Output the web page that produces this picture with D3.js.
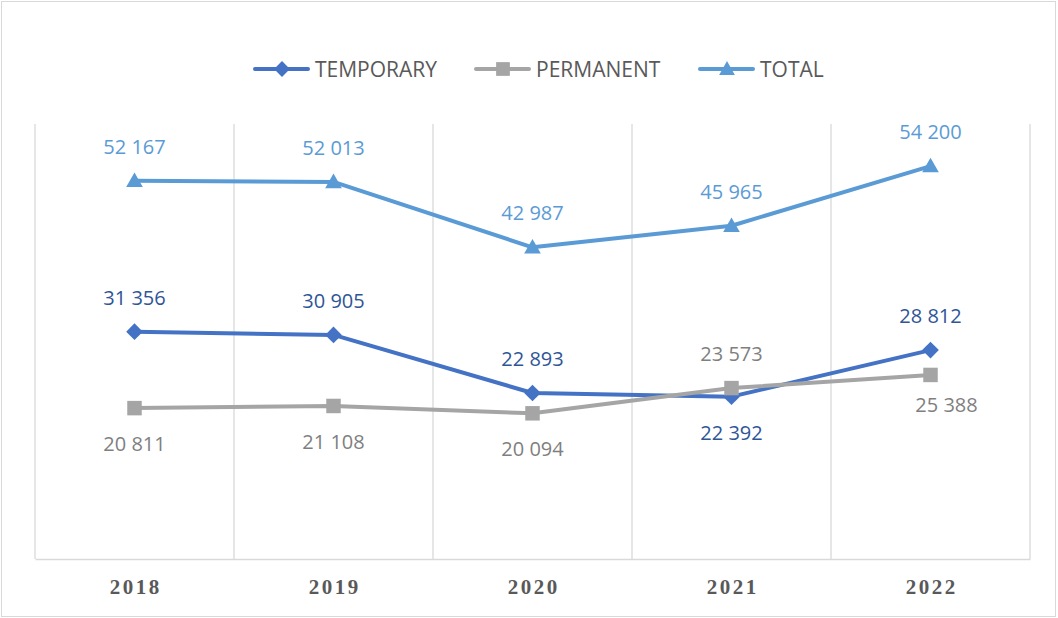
<!DOCTYPE html>
<html>
<head>
<meta charset="utf-8">
<script src="https://cdn.jsdelivr.net/npm/d3@7"></script>
<style>
  body { margin: 0; background: #fff; }
  svg { display: block; }
</style>
</head>
<body>
<div id="chart"></div>
<script>
// data
const years = ["2018", "2019", "2020", "2021", "2022"];
const temporary = [31356, 30905, 22893, 22392, 28812];
const permanent = [20811, 21108, 20094, 23573, 25388];
const total = [52167, 52013, 42987, 45965, 54200];
const seriesNames = ["TEMPORARY", "PERMANENT", "TOTAL"];
// label placement per point (above / below)
const tempLabelPos = ["above", "above", "above", "below", "above"];
const permLabelPos = ["below", "below", "below", "above", "below"];
const totalLabelPos = ["above", "above", "above", "above", "above"];

const width = 1058, height = 618;
const margin = {top: 124, right: 28, bottom: 59, left: 35};
const labelFont = "'Open Sans', 'Noto Sans', sans-serif";

const svg = d3.select("#chart").append("svg")
    .attr("width", width)
    .attr("height", height);

// outer frame
svg.append("rect")
    .attr("x", 1.5).attr("y", 1.5)
    .attr("width", width - 4).attr("height", height - 3)
    .attr("fill", "#fff")
    .attr("stroke", "#D9D9D9");

let x = d3.scaleBand()
    .domain(years)
    .range([margin.left, width - margin.right])
    .padding(0);
let y = d3.scaleLinear()
    .domain([0, 60000])
    .range([height - margin.bottom, margin.top]);

// vertical gridlines at band edges
let edges = years.map(d => x(d)).concat([x.range()[1]]);
svg.append("g").selectAll("line").data(edges)
    .enter().append("line")
    .attr("x1", d => d).attr("x2", d => d)
    .attr("y1", y(60000)).attr("y2", y(0))
    .attr("stroke", "#D9D9D9").attr("stroke-width", 1.3);

// x axis
let xAxis = svg.append("g")
    .attr("transform", "translate(0," + y(0) + ")")
    .call(d3.axisBottom(x).tickSize(0).tickPadding(20));
xAxis.select(".domain").attr("stroke", "#D9D9D9").attr("stroke-width", 1.5);
xAxis.selectAll("text")
    .attr("font-family", "'Liberation Serif', 'DejaVu Serif', serif")
    .attr("font-weight", "bold")
    .attr("font-size", 21)
    .attr("letter-spacing", 2.5)
    .attr("dx", 1.2)
    .attr("fill", "#595959");

let diamond = {
    draw(ctx, size) {
        let r = Math.sqrt(size) * 0.68;
        ctx.moveTo(0, -r); ctx.lineTo(r, 0); ctx.lineTo(0, r); ctx.lineTo(-r, 0); ctx.closePath();
    }
};
let triangle = {
    draw(ctx, size) {
        let r = Math.sqrt(size) * 0.68;
        ctx.moveTo(0, -r); ctx.lineTo(r, r * 0.75); ctx.lineTo(-r, r * 0.75); ctx.closePath();
    }
};

let series = [
    {name: seriesNames[0], values: temporary, color: "#4472C4", label: "#2F5597", pos: tempLabelPos, symbol: diamond, size: 150},
    {name: seriesNames[1], values: permanent, color: "#A5A5A5", label: "#7F7F7F", pos: permLabelPos, symbol: d3.symbolSquare, size: 210},
    {name: seriesNames[2], values: total, color: "#5B9BD5", label: "#5B9BD5", pos: totalLabelPos, symbol: triangle, size: 150}
];

let line = d3.line()
    .x((d, i) => x(years[i]) + x.bandwidth() / 2)
    .y(d => y(d));

series.forEach(s => {
    let g = svg.append("g");
    g.append("path")
        .datum(s.values)
        .attr("d", line)
        .attr("fill", "none")
        .attr("stroke", s.color)
        .attr("stroke-width", 4)
        .attr("stroke-linejoin", "round");

    g.selectAll("path.mk").data(s.values)
        .enter().append("path")
        .attr("class", "mk")
        .attr("d", d3.symbol().type(s.symbol).size(s.size))
        .attr("transform", (d, i) => "translate(" + (x(years[i]) + x.bandwidth() / 2) + "," + y(d) + ")")
        .attr("fill", s.color);

    g.selectAll("text").data(s.values)
        .enter().append("text")
        .attr("x", (d, i) => x(years[i]) + x.bandwidth() / 2 + (s.name === "PERMANENT" && i === 4 ? 16 : 0))
        .attr("y", (d, i) => y(d) + (s.pos[i] === "above" ? -34 : (s.name === "PERMANENT" && i === 4 ? 30 : 36)))
        .attr("dy", "0.35em")
        .attr("text-anchor", "middle")
        .attr("font-family", labelFont)
        .attr("font-size", 20)
        .attr("fill", s.label)
        .text(d => d3.format(",")(d).replace(",", " "));
});

// legend
let legendX = [255, 476, 700];
let legend = svg.append("g").selectAll("g").data(series)
    .enter().append("g")
    .attr("transform", (d, i) => "translate(" + legendX[i] + ",69)");
legend.append("line")
    .attr("x1", 0).attr("x2", 53)
    .attr("stroke", d => d.color)
    .attr("stroke-width", 4)
    .attr("stroke-linecap", "round");
legend.append("path")
    .attr("d", d => d3.symbol().type(d.symbol).size(d.size * 0.9)())
    .attr("transform", "translate(27,0)")
    .attr("fill", d => d.color);
legend.append("text")
    .attr("x", 60)
    .attr("dy", "0.36em")
    .attr("font-family", labelFont)
    .attr("font-size", 21)
    .attr("fill", "#595959")
    .text(d => d.name);
</script>
</body>
</html>
